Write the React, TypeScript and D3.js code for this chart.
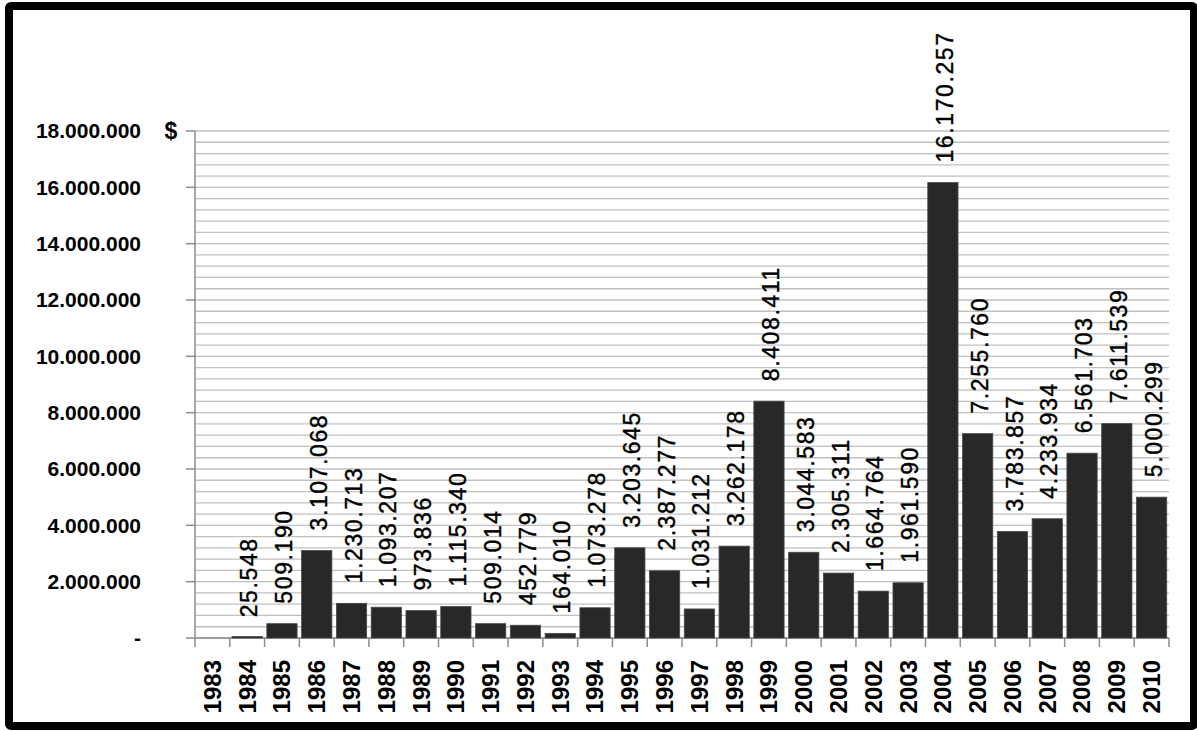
import React from "react";
import * as d3 from "d3";

const years: string[] = [
  "1983","1984","1985","1986","1987","1988","1989","1990","1991","1992",
  "1993","1994","1995","1996","1997","1998","1999","2000","2001","2002",
  "2003","2004","2005","2006","2007","2008","2009","2010",
];
const amounts: (number | null)[] = [
  null, 25548, 509190, 3107068, 1230713, 1093207, 973836, 1115340, 509014, 452779,
  164010, 1073278, 3203645, 2387277, 1031212, 3262178, 8408411, 3044583, 2305311, 1664764,
  1961590, 16170257, 7255760, 3783857, 4233934, 6561703, 7611539, 5000299,
];
const yMajorTicks: number[] = [0, 2000000, 4000000, 6000000, 8000000, 10000000, 12000000, 14000000, 16000000, 18000000];
const yMinorStep = 400000;
const yMax = 18000000;
const currencyLabel = "$";

const W = 1197;
const H = 731;
const left = 195;
const right = 1169;
const top = 131;
const bottom = 638;

const loc = d3.formatLocale({ decimal: ",", thousands: ".", grouping: [3], currency: ["$", ""] });
const fmt = loc.format(",d");

export default function App() {
  const x = d3.scaleBand<string>().domain(years).range([left, right]).paddingInner(0.13).paddingOuter(0.065);
  const xb = d3.scaleBand<string>().domain(years).range([left, right]);
  const y = d3.scaleLinear().domain([0, yMax]).range([bottom, top]);
  const minor = d3.range(0, yMax + 1, yMinorStep);
  const font = "'Liberation Sans', Arial, sans-serif";

  return (
    <svg width={W} height={H} style={{ position: "absolute", left: 0, top: 0, background: "#fff" }} fontFamily={font}>
      <rect x={0} y={0} width={W} height={H} fill="#fff" />
      <rect x={9} y={6} width={1185} height={720} fill="none" stroke="#000" strokeWidth={8} rx={2} />
      {/* gridlines */}
      {minor.map((v) => (
        <line key={"g" + v} x1={left} x2={right} y1={y(v)} y2={y(v)} stroke="#c0c0c0" strokeWidth={1.3} />
      ))}
      {/* y axis */}
      <line x1={left} x2={left} y1={top} y2={bottom + 9} stroke="#8c8c8c" strokeWidth={1.5} />
      {yMajorTicks.map((v) => (
        <g key={"t" + v}>
          <line x1={left - 9} x2={left} y1={y(v)} y2={y(v)} stroke="#8c8c8c" strokeWidth={1.5} />
          <text x={141} y={y(v)} dy="0.35em" textAnchor="end" fontSize={21} fontWeight="bold" fill="#000">
            {v === 0 ? "-" : fmt(v)}
          </text>
        </g>
      ))}
      <text x={171} y={top} dy="0.35em" textAnchor="middle" fontSize={23} fontWeight="bold">{currencyLabel}</text>
      {/* x axis */}
      <line x1={left} x2={right} y1={bottom} y2={bottom} stroke="#8c8c8c" strokeWidth={1.5} />
      {years.map((yr) => (
        <line key={"xt" + yr} x1={(xb(yr) as number) + xb.bandwidth()} x2={(xb(yr) as number) + xb.bandwidth()} y1={bottom} y2={bottom + 9} stroke="#8c8c8c" strokeWidth={1.5} />
      ))}
      {/* bars */}
      {years.map((yr, i) => {
        const v = amounts[i];
        if (v == null) return null;
        const bx = x(yr) as number;
        const by = y(v);
        const h = Math.max(bottom - by, 1.5);
        return (
          <rect key={"b" + yr} x={bx} y={bottom - h} width={x.bandwidth()} height={h} fill="#282828" stroke="#4a4a4a" strokeWidth={0.8} />
        );
      })}
      {/* bar labels */}
      {years.map((yr, i) => {
        const v = amounts[i];
        if (v == null) return null;
        const cx = (xb(yr) as number) + xb.bandwidth() / 2;
        const ly = y(v) - 20;
        return (
          <text key={"l" + yr} transform={`translate(${cx + 2},${ly}) rotate(-90)`} dy="0.35em" textAnchor="start" fontSize={23} letterSpacing={1.6} fill="#000" stroke="#000" strokeWidth={0.4}>
            {fmt(v)}
          </text>
        );
      })}
      {/* x labels */}
      {years.map((yr) => {
        const cx = (xb(yr) as number) + xb.bandwidth() / 2;
        return (
          <text key={"xl" + yr} transform={`translate(${cx},${660}) rotate(-90)`} dy="0.35em" textAnchor="end" fontSize={24} fontWeight="bold" fill="#000">
            {yr}
          </text>
        );
      })}
    </svg>
  );
}
